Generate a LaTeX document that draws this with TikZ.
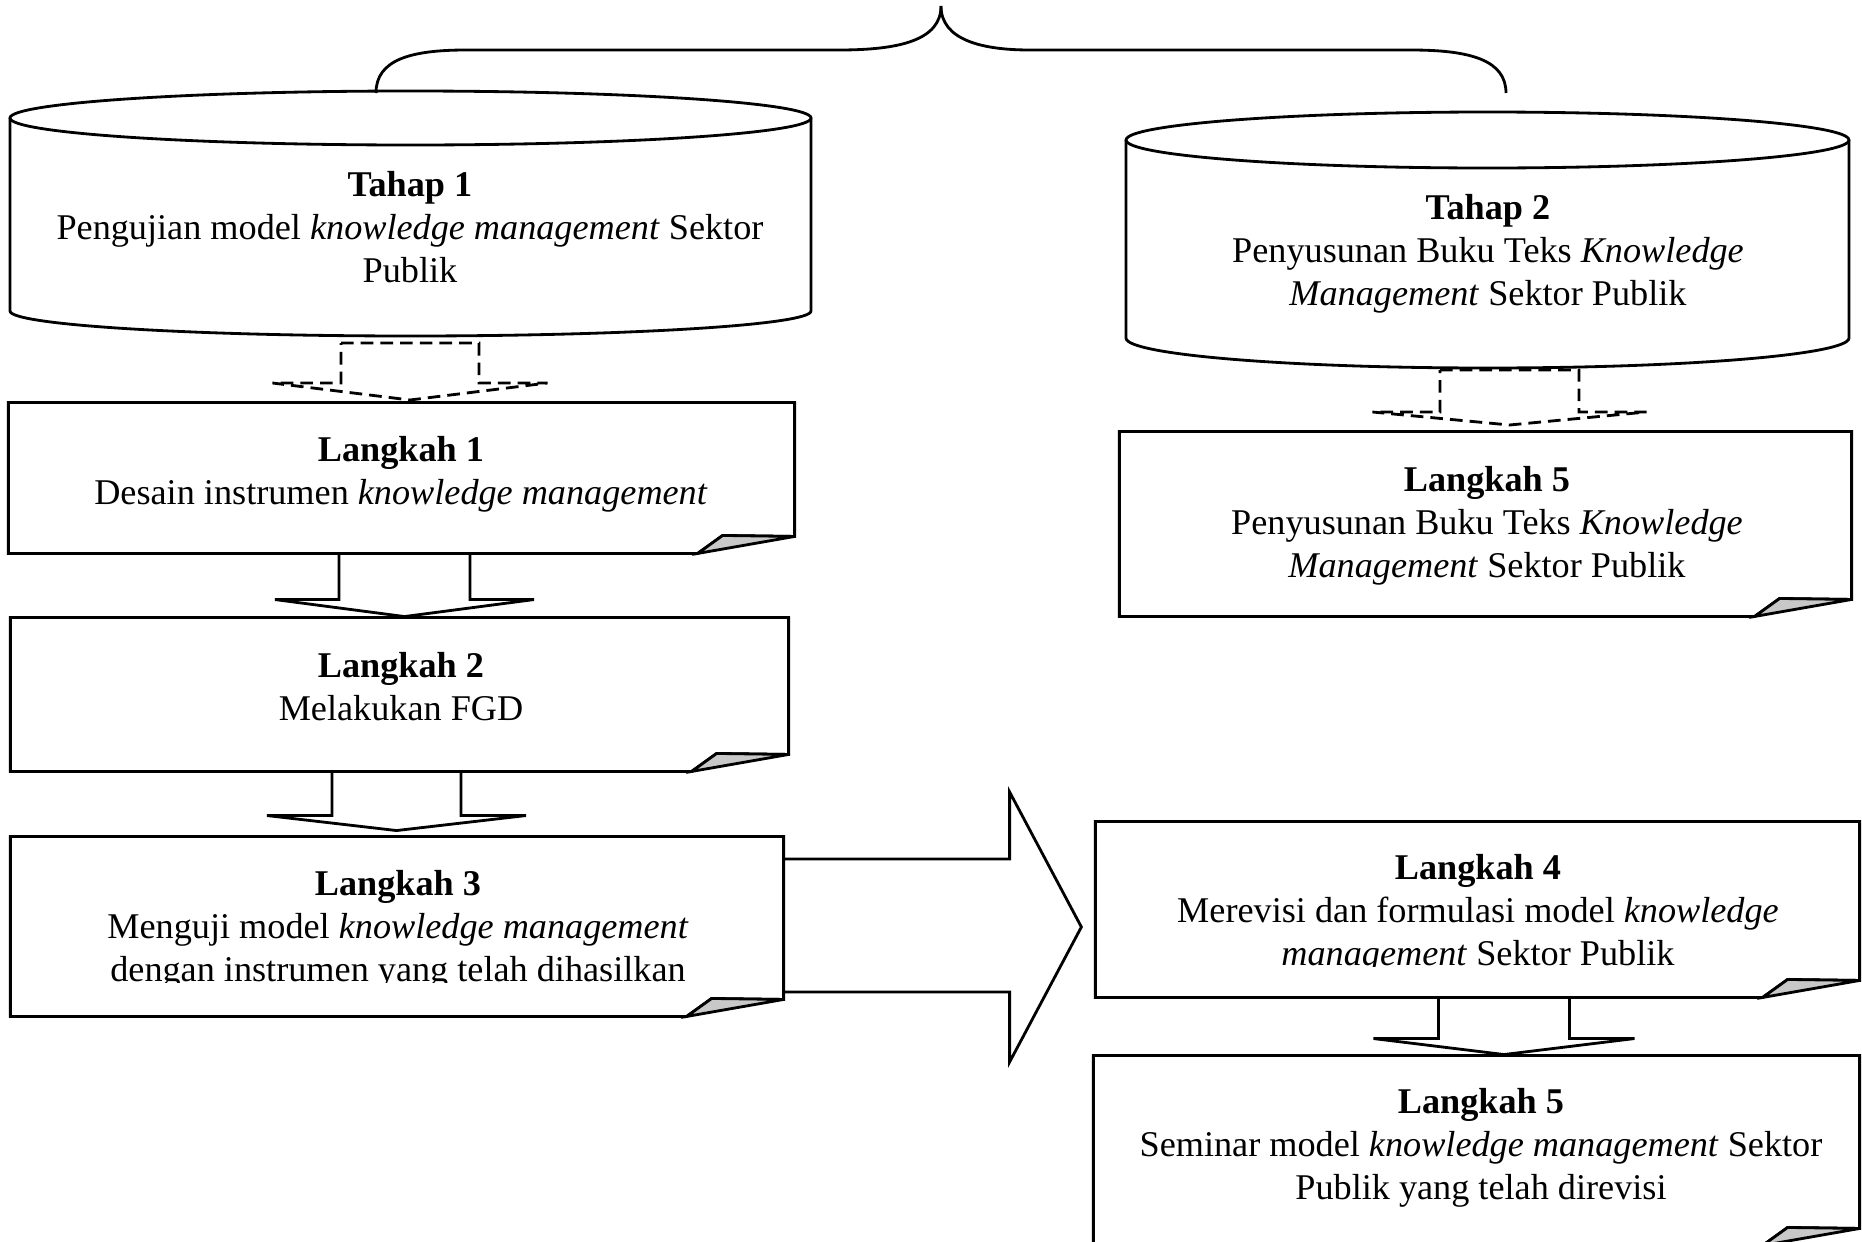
\documentclass[tikz,border=0pt]{standalone}
\usepackage{fontspec}
\setmainfont{Liberation Serif}
\usetikzlibrary{calc}
\definecolor{foldgray}{RGB}{200,200,200}
\newcommand\foldbox[1]{%
  \draw (#1.south west) -- (#1.north west) -- (#1.north east) -- ($(#1.south east)+(0,-17)$)
    -- ($(#1.south east)+(-72,-18)$) -- ($(#1.south east)+(-97,0)$) -- cycle;
  \draw[fill=foldgray] ($(#1.south east)+(-97,0)$) -- ($(#1.south east)+(-72,-18)$)
    -- ($(#1.south east)+(0,-17)$) -- cycle;}
\newcommand\blockdown[6]{%
  \draw[#1] ($(#2)+(-#4,0)$) -- ($(#2)+(#4,0)$) -- ($(#3)+(#4,-#6)$) -- ($(#3)+(#5,-#6)$)
    -- (#3) -- ($(#3)+(-#5,-#6)$) -- ($(#3)+(-#4,-#6)$) -- cycle;}
\begin{document}
\begin{tikzpicture}[x=0.01cm, y=-0.01cm, line width=0.8pt,
  lbl/.style={inner sep=0pt, align=center, font=\fontsize{10.3}{12.2}\selectfont},
  boxshape/.style={draw=none, inner sep=0pt, rectangle},
  dashedarrow/.style={dash pattern=on 3.6pt off 2pt},
  solidarrow/.style={}]
\useasboundingbox (0,0) rectangle (1862,1242);

% brace
\draw (376,93) .. controls (376,60) and (410,50) .. (466,50) -- (839,50)
  .. controls (900,50) and (941,40) .. (941,6);
\draw (941,6) .. controls (941,40) and (982,50) .. (1030,50) -- (1411,50)
  .. controls (1470,50) and (1506,60) .. (1506,93);

% cylinder 1
\draw (410.5,118) ellipse [x radius=400.5, y radius=27];
\draw (10,118) -- (10,311) .. controls (10,324.8) and (189.3,336) .. (410.5,336)
  .. controls (631.7,336) and (811,324.8) .. (811,311) -- (811,118);
\node[lbl] (T1) at (410,227) {\textbf{Tahap 1}\\Pengujian model \textit{knowledge management} Sektor\\Publik};

% cylinder 2
\draw (1487.5,140) ellipse [x radius=361.5, y radius=28];
\draw (1126,140) -- (1126,338) .. controls (1126,354.6) and (1287.8,368) .. (1487.5,368)
  .. controls (1687.2,368) and (1849,354.6) .. (1849,338) -- (1849,140);
\node[lbl] (T2) at (1488,254) {\textbf{Tahap 2}\\Penyusunan Buku Teks \textit{Knowledge}\\\textit{Management} Sektor Publik};

% boxes
\node[boxshape, minimum width=7.83cm, minimum height=1.48cm] (L1) at (401.5,478) {};
\node[boxshape, minimum width=7.75cm, minimum height=1.51cm] (L2) at (399.5,694.5) {};
\node[boxshape, minimum width=7.70cm, minimum height=1.77cm] (L3) at (397,926.5) {};
\node[boxshape, minimum width=7.61cm, minimum height=1.73cm] (L4) at (1477.5,909.5) {};
\node[boxshape, minimum width=7.29cm, minimum height=1.82cm] (L5t) at (1485.5,524) {};
\node[boxshape, minimum width=7.63cm, minimum height=1.87cm] (L5b) at (1476.5,1150.5) {};
\foreach \b in {L1,L2,L3,L4,L5t,L5b} {\foldbox{\b}}

\node[lbl] (L1t) at (401,474) {\textbf{Langkah 1}\\Desain instrumen \textit{knowledge management}};
\node[lbl] (L2t) at (401,687) {\textbf{Langkah 2}\\Melakukan FGD};
\begin{scope}
\clip (0,0) rectangle (1862,982);
\node[lbl] (L3t) at (398,930) {\textbf{Langkah 3}\\Menguji model \textit{knowledge management}\\dengan instrumen yang telah dihasilkan};
\end{scope}
\begin{scope}
\clip (0,0) rectangle (1862,966);
\node[lbl] (L4t) at (1478,914) {\textbf{Langkah 4}\\Merevisi dan formulasi model \textit{knowledge}\\\textit{management} Sektor Publik};
\end{scope}
\node[lbl] (L5tt) at (1487,526) {\textbf{Langkah 5}\\Penyusunan Buku Teks \textit{Knowledge}\\\textit{Management} Sektor Publik};
\node[lbl] (L5bt) at (1481,1148) {\textbf{Langkah 5}\\Seminar model \textit{knowledge management} Sektor\\Publik yang telah direvisi};

% dashed connectors
\coordinate (d1s) at (410,343);
\coordinate (d1t) at (410,400);
\blockdown{dashedarrow}{d1s}{d1t}{69}{137.5}{17}
\coordinate (d2s) at (1509.5,370);
\coordinate (d2t) at (1509.5,425);
\blockdown{dashedarrow}{d2s}{d2t}{69.5}{137}{13}

% solid block arrows
\coordinate (a1s) at ($(L1.south)+(3,0)$);
\coordinate (a1t) at ($(L2.north)+(5,-1)$);
\blockdown{solidarrow}{a1s}{a1t}{65.5}{129.5}{17}
\coordinate (a2s) at ($(L2.south)+(-3,0)$);
\coordinate (a2t) at ($(L3.north)+(-0.5,-6)$);
\blockdown{solidarrow}{a2s}{a2t}{64.5}{129.5}{15}
\coordinate (a3s) at ($(L4.south)+(26.5,0)$);
\coordinate (a3t) at ($(L5b.north)+(27.5,-1)$);
\blockdown{solidarrow}{a3s}{a3t}{65.5}{130.5}{16}

% big arrow from Langkah 3 to Langkah 4
\coordinate (bt) at ($(L4.west)+(-14,17.5)$);
\draw ($(L3.east)+(0,-67.5)$) -- ++(226,0) -- ++(0,-67) -- (bt)
  -- ($(L3.east)+(226,135.5)$) -- ++(0,-70) -- ($(L3.east)+(0,65.5)$);
\end{tikzpicture}
\end{document}
